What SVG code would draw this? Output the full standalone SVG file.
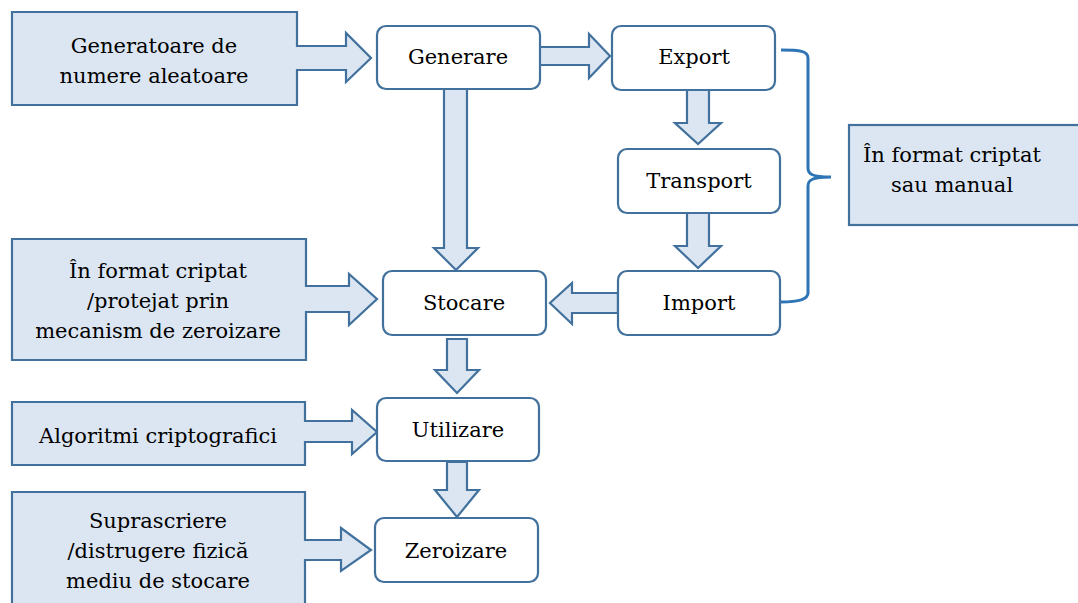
<svg xmlns="http://www.w3.org/2000/svg" width="1078" height="603" viewBox="0 0 1078 603">
  <style>
    .step { fill: #ffffff; stroke: #41719c; stroke-width: 2.2; }
    .note { fill: #dce6f2; stroke: #41719c; stroke-width: 2.2; stroke-linejoin: miter; }
    .flow { fill: #dce6f2; stroke: #41719c; stroke-width: 2.2; stroke-linejoin: miter; }
    .brace { fill: none; stroke: #2e75b6; stroke-width: 3; }
    .label { font-family: "DejaVu Serif", serif; font-size: 21px; fill: #000000; text-anchor: middle; }
  </style>

  <!-- side notes: rectangle with an arrow pointing into the step -->
  <g id="note-generatoare">
    <path class="note" d="M12,12 H297 V46 H346 V33 L371,58 L346,82 V70 H297 V105 H12 Z"/>
    <text class="label" x="154" y="53">Generatoare de</text>
    <text class="label" x="154" y="83">numere aleatoare</text>
  </g>
  <g id="note-stocare">
    <path class="note" d="M12,239 H306 V286 H349 V274 L377,299 L349,325 V312 H306 V360 H12 Z"/>
    <text class="label" x="158" y="278">În format criptat</text>
    <text class="label" x="158" y="308">/protejat prin</text>
    <text class="label" x="158" y="338">mecanism de zeroizare</text>
  </g>
  <g id="note-utilizare">
    <path class="note" d="M12,402 H305 V421 H352 V410 L377,432 L352,454 V442 H305 V465 H12 Z"/>
    <text class="label" x="158" y="443">Algoritmi criptografici</text>
  </g>
  <g id="note-zeroizare">
    <path class="note" d="M12,492 H305 V540 H341 V528 L371,550 L341,571 V560 H305 V604 H12 Z"/>
    <text class="label" x="158" y="528">Suprascriere</text>
    <text class="label" x="158" y="558">/distrugere fizică</text>
    <text class="label" x="158" y="588">mediu de stocare</text>
  </g>
  <g id="note-transfer">
    <rect class="note" x="849" y="125" width="232" height="100"/>
    <text class="label" x="952" y="162">În format criptat</text>
    <text class="label" x="952" y="192">sau manual</text>
  </g>

  <!-- block arrows between steps -->
  <g id="connectors">
    <path class="flow" d="M539,47 H589 V34 L610,56 L589,78 V65 H539 Z"/>
    <path class="flow" d="M687,90 V123 H675 L698,144 L721,123 H709 V90 Z"/>
    <path class="flow" d="M687,213 V246 H675 L698,268 L721,246 H709 V213 Z"/>
    <path class="flow" d="M444,88 V248 H434 L456,270 L478,248 H467 V88 Z"/>
    <path class="flow" d="M618,293 H572 V283 L550,303 L572,324 V313 H618 Z"/>
    <path class="flow" d="M447,339 V370 H435 L457,393 L479,370 H467 V339 Z"/>
    <path class="flow" d="M447,462 V490 H435 L457,517 L479,490 H467 V462 Z"/>
    <path class="brace" d="M781,50 C800,50 808,51 808,58 V168 C808,174 812,177 831,177 C812,177 808,180 808,186 V293 C808,299 800,302 781,302"/>
  </g>

  <!-- process steps -->
  <g id="step-generare">
    <rect class="step" x="377" y="26" width="163" height="63" rx="9"/>
    <text class="label" x="458" y="64">Generare</text>
  </g>
  <g id="step-export">
    <rect class="step" x="612" y="26" width="163" height="64" rx="9"/>
    <text class="label" x="694" y="64">Export</text>
  </g>
  <g id="step-transport">
    <rect class="step" x="618" y="149" width="162" height="64" rx="9"/>
    <text class="label" x="699" y="188">Transport</text>
  </g>
  <g id="step-import">
    <rect class="step" x="618" y="271" width="162" height="64" rx="9"/>
    <text class="label" x="699" y="310">Import</text>
  </g>
  <g id="step-stocare">
    <rect class="step" x="383" y="271" width="163" height="64" rx="9"/>
    <text class="label" x="464" y="310">Stocare</text>
  </g>
  <g id="step-utilizare">
    <rect class="step" x="377" y="398" width="162" height="63" rx="9"/>
    <text class="label" x="458" y="437">Utilizare</text>
  </g>
  <g id="step-zeroizare">
    <rect class="step" x="375" y="518" width="163" height="64" rx="9"/>
    <text class="label" x="456" y="558">Zeroizare</text>
  </g>
</svg>
